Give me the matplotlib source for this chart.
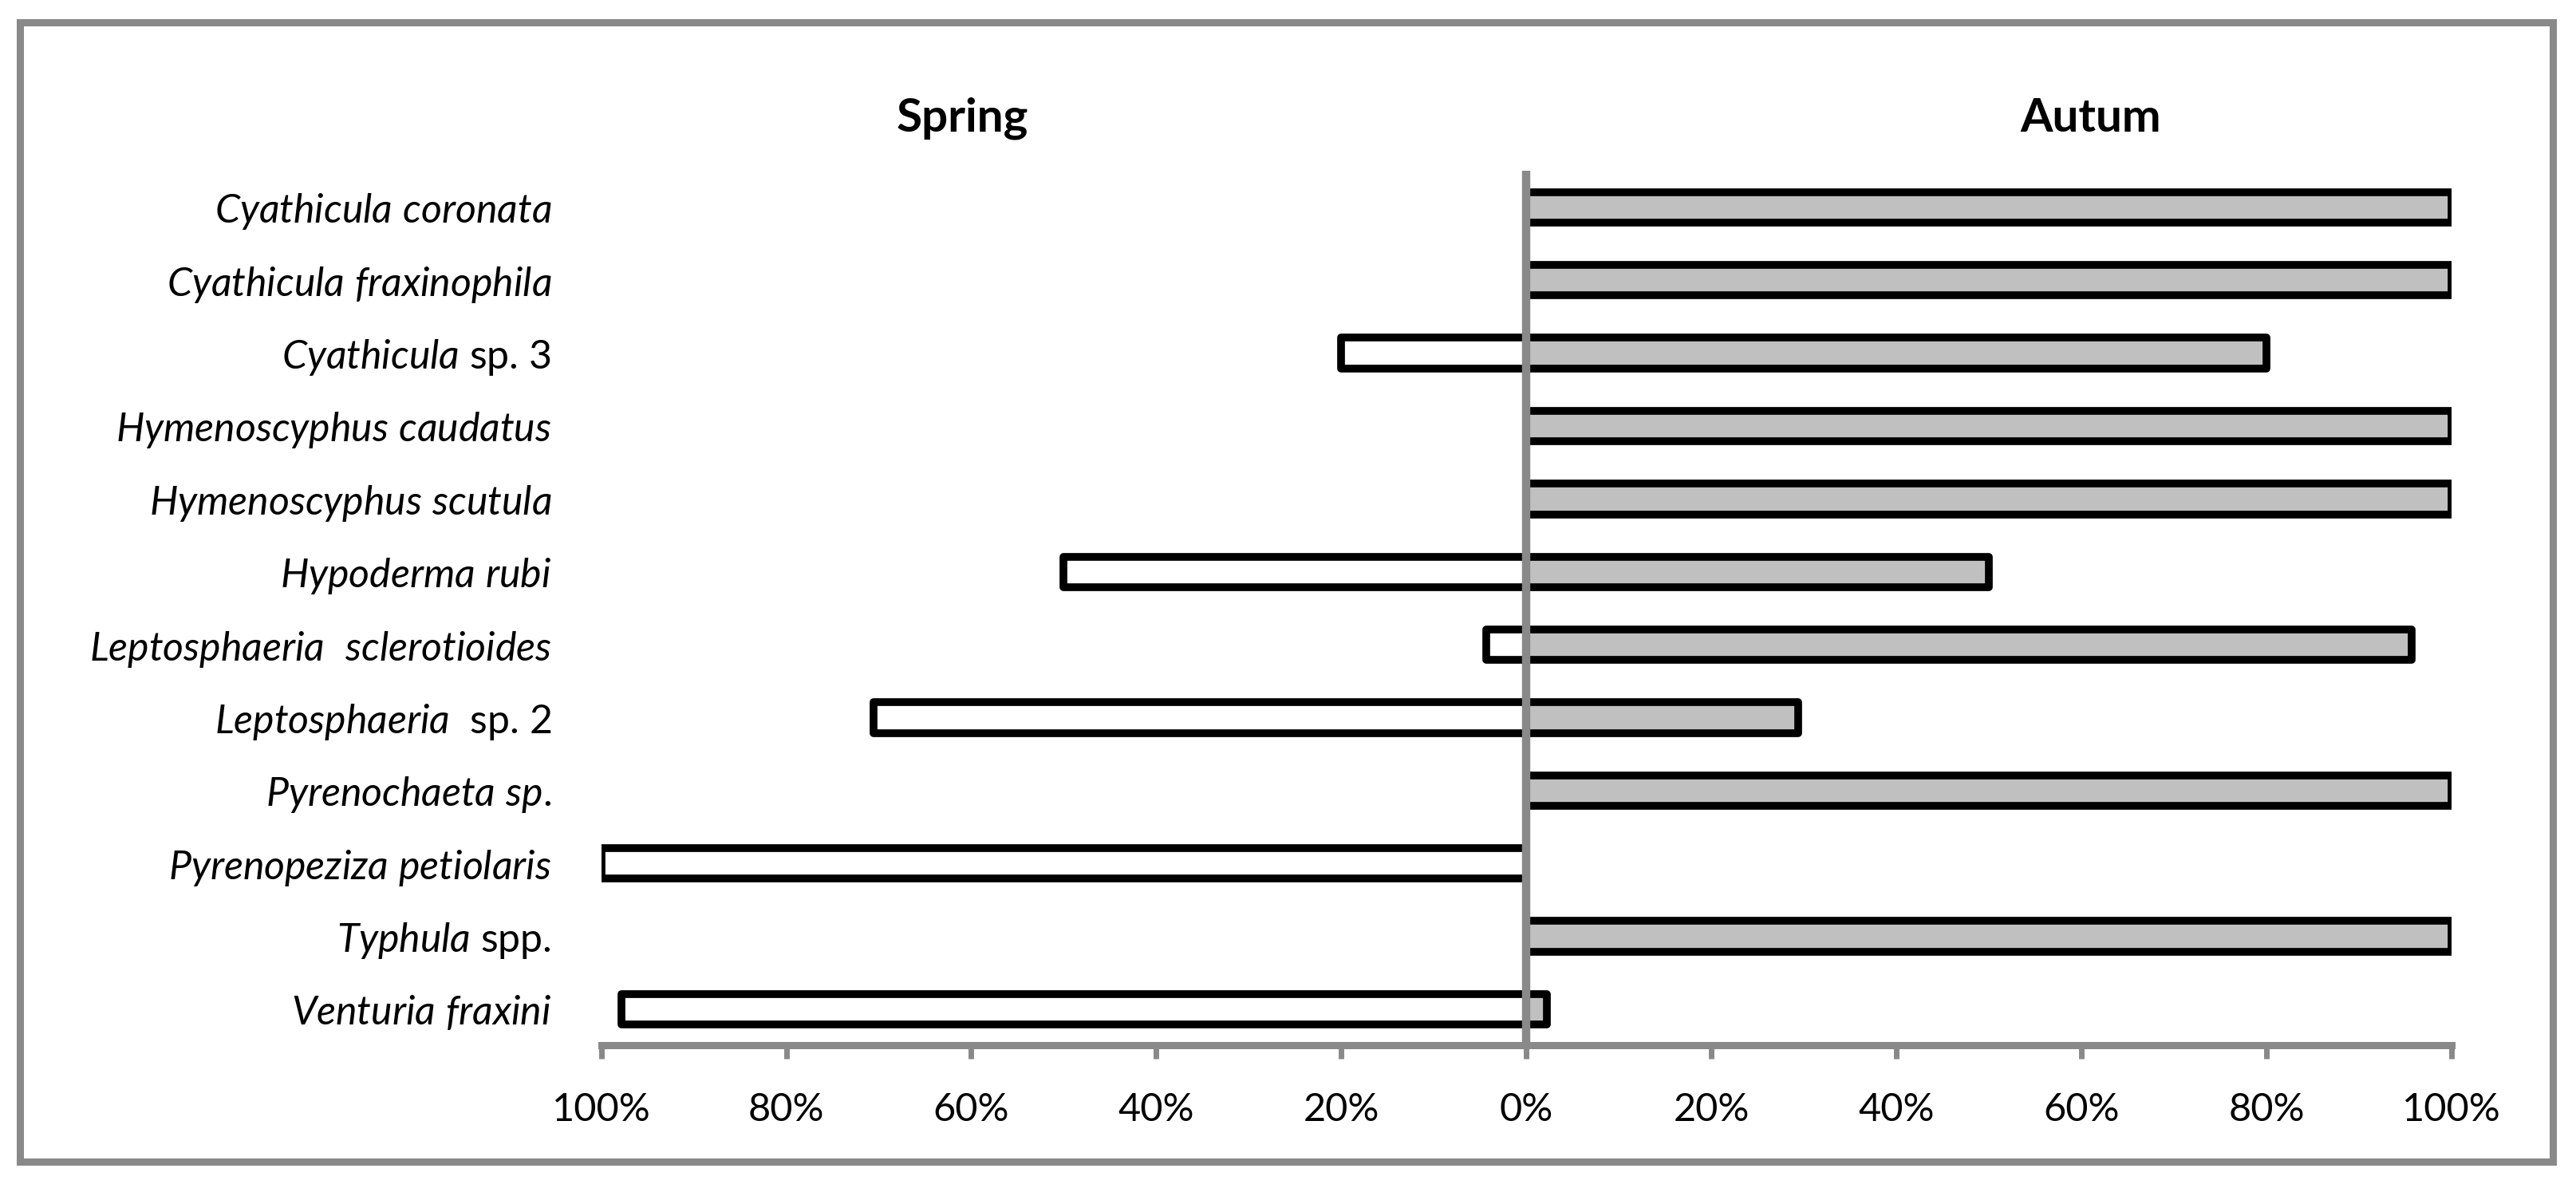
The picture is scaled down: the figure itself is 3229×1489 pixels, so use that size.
import numpy as np
import matplotlib
matplotlib.use("Agg")
import matplotlib.pyplot as plt
import matplotlib.transforms as mtransforms
from matplotlib.patches import Rectangle

plt.rcParams["font.family"] = ["Lato", "DejaVu Sans"]
plt.rcParams["mathtext.fontset"] = "custom"
plt.rcParams["mathtext.rm"] = "Lato"
plt.rcParams["mathtext.it"] = "Lato:italic"
plt.rcParams["mathtext.bf"] = "Lato:bold"

# species labels (italic parts in mathtext)
species = [
    r"$\mathit{Cyathicula\ coronata}$",
    r"$\mathit{Cyathicula\ fraxinophila}$",
    r"$\mathit{Cyathicula}$ sp. 3",
    r"$\mathit{Hymenoscyphus\ caudatus}$",
    r"$\mathit{Hymenoscyphus\ scutula}$",
    r"$\mathit{Hypoderma\ rubi}$",
    r"$\mathit{Leptosphaeria\ \ sclerotioides}$",
    r"$\mathit{Leptosphaeria}$  sp. 2",
    r"$\mathit{Pyrenochaeta\ sp.}$",
    r"$\mathit{Pyrenopeziza\ petiolaris}$",
    r"$\mathit{Typhula}$ spp.",
    r"$\mathit{Venturia\ fraxini}$",
]
# percentage of records per season
spring = [0, 0, 20, 0, 0, 50, 4.3, 70.6, 0, 100, 0, 97.8]
autumn = [100, 100, 80, 100, 100, 50, 95.7, 29.4, 100, 0, 100, 2.2]
xticks = [-100, -80, -60, -40, -20, 0, 20, 40, 60, 80, 100]
xticklabels = ["100%", "80%", "60%", "40%", "20%", "0%", "20%", "40%", "60%", "80%", "100%"]

GRAY = "#898989"
FILL = "#C0C0C0"

fig = plt.figure(figsize=(32.3, 14.89), dpi=100)
ax = fig.add_axes([0.2333, 0.1199, 0.9514 - 0.2333, 0.8561 - 0.1199])

y = np.arange(len(species))
sp = np.array(spring, dtype=float)
au = np.array(autumn, dtype=float)
h = 0.42
m = sp > 0
ax.barh(y[m], -sp[m], height=h, color="white", edgecolor="black",
        linewidth=7, joinstyle="round", zorder=2)
m = au > 0
ax.barh(y[m], au[m], height=h, color=FILL, edgecolor="black",
        linewidth=7, joinstyle="round", zorder=2)

# zero line drawn over the bar edges
ax.axvline(0, color=GRAY, linewidth=7.5, zorder=3, solid_capstyle="butt")

ax.set_xlim(-100, 100)
ax.set_ylim(len(species) - 0.5, -0.5)
ax.set_yticks(y)
ax.set_yticklabels(species, fontsize=36)
ax.set_xticks(xticks)
ax.set_xticklabels(xticklabels, fontsize=35)
ax.tick_params(axis="y", length=0, pad=45)
ax.tick_params(axis="x", direction="out", length=12, width=5, color=GRAY, pad=30)

for s in ["top", "right", "left"]:
    ax.spines[s].set_visible(False)
ax.spines["bottom"].set_color(GRAY)
ax.spines["bottom"].set_linewidth(6.5)

trans = mtransforms.blended_transform_factory(ax.transData, ax.transAxes)
ax.text(-61, 1.045, "Spring", transform=trans, ha="center", va="baseline",
        fontsize=42, fontweight="bold")
ax.text(61, 1.045, "Autum", transform=trans, ha="center", va="baseline",
        fontsize=42, fontweight="bold")

# outer chart frame
fig.patches.append(Rectangle((0.0077, 0.0222), 0.9907 - 0.0077, 0.9812 - 0.0222,
                             transform=fig.transFigure, fill=False,
                             edgecolor=GRAY, linewidth=6.5))

fig.savefig("out.png", dpi=100)
